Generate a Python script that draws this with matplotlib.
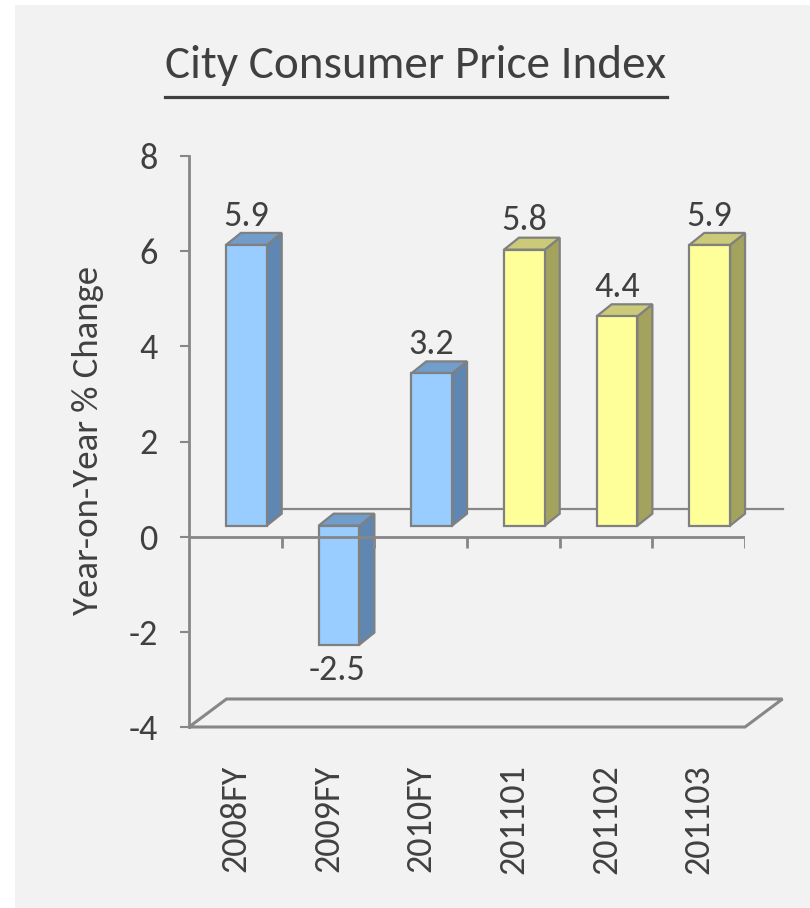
import matplotlib
matplotlib.use("Agg")
import matplotlib.pyplot as plt
from matplotlib import font_manager
from matplotlib.patches import Polygon, Rectangle
from matplotlib.lines import Line2D
import numpy as np

# ---------------- data ----------------
categories = ["2008FY", "2009FY", "2010FY", "201101", "201102", "201103"]
values = [5.9, -2.5, 3.2, 5.8, 4.4, 5.9]
groups = ["fy", "fy", "fy", "q", "q", "q"]
yticks = [-4, -2, 0, 2, 4, 6, 8]
title = "City Consumer Price Index"
ylabel = "Year-on-Year % Change"

# ---------------- styling ----------------
available = {f.name for f in font_manager.fontManager.ttflist}
def pick(cands):
    for c in cands:
        if c in available:
            return c
    return "DejaVu Sans"

body_font = pick(["Carlito", "Lato", "Open Sans", "Noto Sans", "DejaVu Sans"])
title_font = pick(["Carlito", "Liberation Sans Narrow", "Lato", "Roboto", "Open Sans"])

txt = "#404040"
axis_col = "#878787"
face = {"fy": "#99ccff", "q": "#ffff99"}
side = {"fy": "#5f87b1", "q": "#a3a35e"}
top = {"fy": "#719dcb", "q": "#caca78"}
edge = "#808080"
fs = 26

W, H = 810, 908
fig = plt.figure(figsize=(W / 100, H / 100), dpi=100)
fig.patch.set_facecolor("white")
fig.patches.append(Rectangle((15 / W, 0), 1 - 15 / W, 1 - 5 / H, transform=fig.transFigure,
                             facecolor="#f2f2f2", edgecolor="none", zorder=-5))

ax = fig.add_axes([189 / W, 1 - 727 / H, (745 - 189) / W, (727 - 156) / H])
ax.set_zorder(2)
ax.set_facecolor("none")
ax.set_xlim(-0.5, len(categories) - 0.5)
ax.set_ylim(min(yticks), max(yticks))

def depth(px, py):
    p0 = ax.transData.transform((0, 0))
    d = ax.transData.inverted().transform(p0 + np.array([px, py]))
    return d

floor_off = depth(37.5, 28)
front_off = depth(11, 11)
bar_depth = depth(15, 12)

x0, x1 = ax.get_xlim()
ymin = min(yticks)

# floor
ax.add_patch(Polygon([(x0, ymin), (x1, ymin), (x1 + floor_off[0], ymin + floor_off[1]),
                      (x0 + floor_off[0], ymin + floor_off[1])], closed=True,
                     facecolor="#f2f2f2", edgecolor=axis_col, lw=2.2, zorder=1, clip_on=False))
# back-wall zero line
ax.add_line(Line2D([x0 + floor_off[0], x1 + floor_off[0]], [floor_off[1], floor_off[1]],
                   color=axis_col, lw=1.6, zorder=1, clip_on=False))

# bars
w = 0.44
xs = np.arange(len(categories))
bars = ax.bar(xs + front_off[0], values, width=w, bottom=front_off[1],
              color=[face[g] for g in groups], edgecolor=edge, linewidth=1.6, zorder=3)
for b in bars:
    b.set_clip_on(False)
for i, (v, g) in enumerate(zip(values, groups)):
    l = i + front_off[0] - w / 2
    r = i + front_off[0] + w / 2
    yt = max(v, 0) + front_off[1]
    yb = min(v, 0) + front_off[1]
    dx, dy = bar_depth
    ax.add_patch(Polygon([(r, yb), (r + dx, yb + dy), (r + dx, yt + dy), (r, yt)], closed=True,
                         facecolor=side[g], edgecolor=edge, lw=1.6, zorder=2.9, clip_on=False))
    ax.add_patch(Polygon([(l, yt), (l + dx, yt + dy), (r + dx, yt + dy), (r, yt)], closed=True,
                         facecolor=top[g], edgecolor=edge, lw=1.6, zorder=2.9, clip_on=False))
    if v >= 0:
        ax.annotate(f"{v:.1f}", (i + front_off[0], yt + dy), xytext=(0, 1), textcoords="offset points",
                    ha="center", va="bottom", fontsize=fs, color=txt, family=body_font, zorder=5)
    else:
        ax.annotate(f"{v:.1f}", (i + front_off[0] - 0.02, yb), xytext=(0, -7), textcoords="offset points",
                    ha="center", va="top", fontsize=fs, color=txt, family=body_font, zorder=5)

# front category axis at zero
ax.axhline(0, color=axis_col, lw=2, zorder=4)
ax.vlines(xs + 0.5, -0.23, 0, color=axis_col, lw=2, zorder=4)

# spines / ticks
for s in ["top", "right", "bottom"]:
    ax.spines[s].set_visible(False)
ax.spines["left"].set_color(axis_col)
ax.spines["left"].set_linewidth(2)
ax.set_yticks(yticks)
ax.set_yticklabels([str(t) for t in yticks])
ax.tick_params(axis="y", length=6.5, width=1.5, color=axis_col, pad=16,
               labelsize=fs, labelcolor=txt)
for t in ax.get_yticklabels():
    t.set_family(body_font)
ax.set_xticks(xs)
ax.set_xticklabels(categories, rotation=90)
ax.tick_params(axis="x", length=0, pad=27, labelsize=fs, labelcolor=txt)
for t in ax.get_xticklabels():
    t.set_family(body_font)

fig.text(88 / W, 1 - 440 / H, ylabel, rotation=90, ha="center", va="center",
         fontsize=26.5, color=txt, family=body_font)

tt = fig.text(416 / W, 1 - 78 / H, title, ha="center", va="baseline",
              fontsize=34, color=txt, family=title_font, fontweight="light")
fig.canvas.draw()
bb = tt.get_window_extent().transformed(fig.transFigure.inverted())
uy = 1 - 97 / H
fig.add_artist(Line2D([bb.x0, bb.x1], [uy, uy], transform=fig.transFigure, color=txt, lw=2.3))

fig.savefig("out.png", dpi=100, facecolor=fig.get_facecolor())
